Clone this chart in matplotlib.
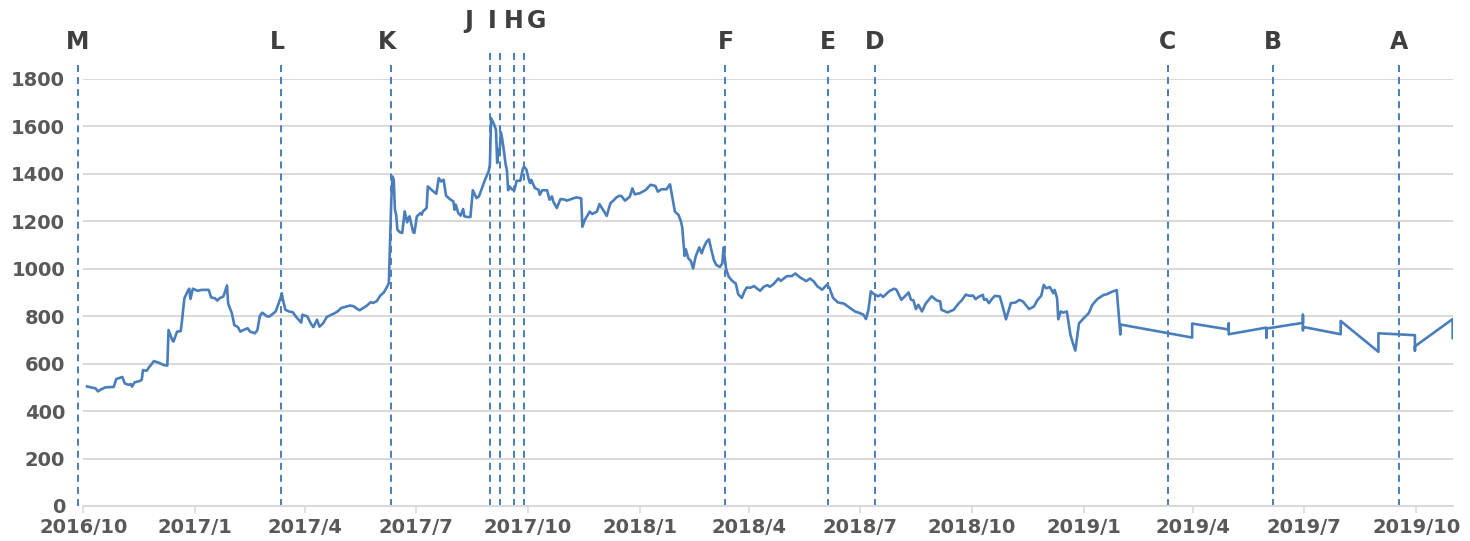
import pandas as pd
import matplotlib
matplotlib.use("Agg")
import matplotlib.pyplot as plt

# daily price (one row per month)
price_dates = [
    "2016-10-04", "2016-10-08", "2016-10-11", "2016-10-13", "2016-10-15", "2016-10-19", "2016-10-26", "2016-10-28",
    "2016-11-02", "2016-11-04", "2016-11-07", "2016-11-09", "2016-11-10", "2016-11-12", "2016-11-17", "2016-11-18", "2016-11-19", "2016-11-22", "2016-11-24", "2016-11-28",
    "2016-12-02", "2016-12-06", "2016-12-09", "2016-12-10", "2016-12-13", "2016-12-14", "2016-12-15", "2016-12-17", "2016-12-20", "2016-12-21", "2016-12-23", "2016-12-26", "2016-12-27", "2016-12-28", "2016-12-30",
    "2017-01-03", "2017-01-06", "2017-01-12", "2017-01-14", "2017-01-17", "2017-01-19", "2017-01-21", "2017-01-24", "2017-01-25", "2017-01-27", "2017-01-28", "2017-01-31",
    "2017-02-02", "2017-02-05", "2017-02-07", "2017-02-10", "2017-02-13", "2017-02-15", "2017-02-19", "2017-02-21", "2017-02-23", "2017-02-25",
    "2017-03-01", "2017-03-03", "2017-03-08", "2017-03-10", "2017-03-12", "2017-03-13", "2017-03-14", "2017-03-16", "2017-03-19", "2017-03-22", "2017-03-25", "2017-03-29", "2017-03-30",
    "2017-04-03", "2017-04-06", "2017-04-08", "2017-04-11", "2017-04-13", "2017-04-16", "2017-04-19", "2017-04-23", "2017-04-26", "2017-04-28",
    "2017-05-01", "2017-05-04", "2017-05-08", "2017-05-11", "2017-05-14", "2017-05-16", "2017-05-19", "2017-05-22", "2017-05-25", "2017-05-27", "2017-05-30",
    "2017-06-02", "2017-06-05", "2017-06-07", "2017-06-09", "2017-06-10", "2017-06-11", "2017-06-12", "2017-06-13", "2017-06-14", "2017-06-15", "2017-06-16", "2017-06-18", "2017-06-20", "2017-06-22", "2017-06-24", "2017-06-25", "2017-06-26", "2017-06-29", "2017-06-30",
    "2017-07-02", "2017-07-05", "2017-07-06", "2017-07-07", "2017-07-10", "2017-07-11", "2017-07-14", "2017-07-18", "2017-07-20", "2017-07-22", "2017-07-24", "2017-07-26", "2017-07-29",
    "2017-08-01", "2017-08-02", "2017-08-03", "2017-08-05", "2017-08-07", "2017-08-09", "2017-08-10", "2017-08-13", "2017-08-15", "2017-08-17", "2017-08-20", "2017-08-22", "2017-08-24", "2017-08-27", "2017-08-30", "2017-08-31",
    "2017-09-01", "2017-09-03", "2017-09-05", "2017-09-06", "2017-09-07", "2017-09-08", "2017-09-09", "2017-09-10", "2017-09-11", "2017-09-13", "2017-09-14", "2017-09-15", "2017-09-16", "2017-09-18", "2017-09-20", "2017-09-22", "2017-09-25", "2017-09-27", "2017-09-28", "2017-09-30",
    "2017-10-02", "2017-10-03", "2017-10-04", "2017-10-07", "2017-10-10", "2017-10-11", "2017-10-13", "2017-10-17", "2017-10-19", "2017-10-21", "2017-10-22", "2017-10-25", "2017-10-28",
    "2017-11-01", "2017-11-02", "2017-11-06", "2017-11-10", "2017-11-14", "2017-11-15", "2017-11-17", "2017-11-21", "2017-11-23", "2017-11-27", "2017-11-29",
    "2017-12-02", "2017-12-05", "2017-12-08", "2017-12-11", "2017-12-13", "2017-12-15", "2017-12-17", "2017-12-20", "2017-12-24", "2017-12-26", "2017-12-28",
    "2018-01-01", "2018-01-06", "2018-01-10", "2018-01-14", "2018-01-16", "2018-01-19", "2018-01-23", "2018-01-26", "2018-01-30",
    "2018-02-02", "2018-02-04", "2018-02-05", "2018-02-07", "2018-02-08", "2018-02-10", "2018-02-12", "2018-02-14", "2018-02-16", "2018-02-19", "2018-02-21", "2018-02-23", "2018-02-25", "2018-02-27",
    "2018-03-01", "2018-03-03", "2018-03-05", "2018-03-08", "2018-03-10", "2018-03-11", "2018-03-13", "2018-03-15", "2018-03-17", "2018-03-19", "2018-03-21", "2018-03-23", "2018-03-26", "2018-03-28", "2018-03-30",
    "2018-04-02", "2018-04-05", "2018-04-10", "2018-04-13", "2018-04-16", "2018-04-18", "2018-04-21", "2018-04-25", "2018-04-27",
    "2018-05-02", "2018-05-06", "2018-05-09", "2018-05-13", "2018-05-18", "2018-05-21", "2018-05-24", "2018-05-27", "2018-05-31",
    "2018-06-04", "2018-06-06", "2018-06-09", "2018-06-13", "2018-06-18", "2018-06-23", "2018-06-27",
    "2018-07-01", "2018-07-04", "2018-07-06", "2018-07-08", "2018-07-10", "2018-07-12", "2018-07-16", "2018-07-18", "2018-07-20", "2018-07-25", "2018-07-29", "2018-07-31",
    "2018-08-04", "2018-08-07", "2018-08-10", "2018-08-12", "2018-08-14", "2018-08-16", "2018-08-18", "2018-08-21", "2018-08-24", "2018-08-29",
    "2018-09-02", "2018-09-05", "2018-09-06", "2018-09-11", "2018-09-16", "2018-09-20", "2018-09-23", "2018-09-26", "2018-09-29",
    "2018-10-02", "2018-10-04", "2018-10-07", "2018-10-10", "2018-10-11", "2018-10-13", "2018-10-15", "2018-10-18", "2018-10-20", "2018-10-24", "2018-10-27", "2018-10-29", "2018-10-31",
    "2018-11-02", "2018-11-06", "2018-11-09", "2018-11-12", "2018-11-17", "2018-11-21", "2018-11-24", "2018-11-27", "2018-11-29",
    "2018-12-01", "2018-12-04", "2018-12-07", "2018-12-08", "2018-12-10", "2018-12-11", "2018-12-13", "2018-12-15", "2018-12-18", "2018-12-21", "2018-12-23", "2018-12-25", "2018-12-28",
    "2019-01-01", "2019-01-05", "2019-01-08", "2019-01-12", "2019-01-15", "2019-01-17", "2019-01-20", "2019-01-24", "2019-01-28", "2019-01-30", "2019-01-31", "2019-01-31",
    "2019-03-31", "2019-03-31",
    "2019-04-30", "2019-04-30", "2019-04-30",
    "2019-05-31", "2019-05-31", "2019-05-31",
    "2019-06-30", "2019-06-30", "2019-06-30", "2019-06-30",
    "2019-07-31", "2019-07-31",
    "2019-08-31", "2019-08-31",
    "2019-09-30", "2019-09-30", "2019-09-30",
    "2019-10-31", "2019-10-31",
]
price_values = [
    504, 499, 496, 483, 490, 500, 502, 535,
    544, 517, 511, 514, 503, 521, 528, 534, 573, 570, 585, 611,
    604, 594, 592, 742, 700, 693, 707, 735, 737, 778, 876, 908, 916, 873, 916,
    907, 911, 911, 879, 876, 866, 876, 883, 897, 930, 852, 813,
    763, 754, 735, 743, 749, 735, 728, 742, 801, 815,
    799, 799, 820, 848, 876, 897, 869, 827, 820, 817, 796, 773, 806,
    799, 768, 754, 785, 756, 770, 797, 807, 814, 821,
    835, 839, 845, 842, 831, 825, 835, 845, 859, 856, 863,
    887, 901, 919, 940, 1123, 1291, 1389, 1375, 1249, 1228, 1165, 1154, 1151, 1242, 1196, 1214, 1221, 1154, 1151,
    1221, 1235, 1228, 1242, 1256, 1347, 1333, 1316, 1382, 1368, 1375, 1308, 1294,
    1284, 1249, 1270, 1235, 1224, 1252, 1221, 1218, 1218, 1331, 1298, 1305, 1333, 1375, 1411, 1439,
    1635, 1614, 1586, 1446, 1502, 1495, 1576, 1551, 1516, 1439, 1415, 1331, 1347, 1336, 1329, 1371, 1371, 1418, 1432, 1418,
    1375, 1361, 1375, 1340, 1333, 1312, 1331, 1331, 1291, 1305, 1284, 1256, 1294,
    1291, 1287, 1294, 1301, 1297, 1177, 1206, 1241, 1231, 1241, 1273,
    1248, 1223, 1276, 1290, 1301, 1307, 1307, 1287, 1304, 1339, 1314,
    1318, 1332, 1354, 1349, 1325, 1335, 1335, 1356, 1241,
    1227, 1199, 1175, 1054, 1082, 1044, 1034, 1001, 1051, 1090, 1065, 1093, 1114, 1124,
    1079, 1037, 1016, 1008, 1023, 1090, 1001, 969, 955, 945, 938, 893, 877, 903, 921,
    920, 927, 907, 924, 931, 924, 935, 959, 949,
    969, 969, 980, 963, 948, 959, 947, 926, 912,
    933, 919, 877, 858, 853, 834, 820,
    813, 806, 788, 827, 905, 895, 884, 891, 881, 905, 916, 912,
    869, 884, 900, 869, 867, 830, 848, 820, 853, 884,
    867, 862, 827, 816, 827, 853, 869, 891, 886,
    887, 872, 883, 890, 869, 872, 855, 876, 886, 883, 827, 787, 820,
    855, 858, 869, 862, 830, 841, 869, 886, 932,
    918, 923, 897, 911, 876, 787, 820, 815, 820, 721, 686, 655, 770,
    792, 813, 848, 872, 882, 889, 893, 903, 910, 783, 723, 765,
    710, 769,
    744, 769, 724,
    752, 710, 748,
    772, 806, 741, 755,
    724, 780,
    650, 728,
    720, 655, 673,
    788, 708,
]

# event markers
event_labels = ["M", "L", "K", "J", "I", "H", "G", "F", "E", "D", "C", "B", "A"]
event_dates = ["2016-09-27", "2017-03-12", "2017-06-11", "2017-08-31", "2017-09-08",
               "2017-09-20", "2017-09-28", "2018-03-12", "2018-06-05", "2018-07-13",
               "2019-03-11", "2019-06-05", "2019-09-17"]

tick_dates = ["2016-10-01", "2017-01-01", "2017-04-01", "2017-07-01", "2017-10-01",
              "2018-01-01", "2018-04-01", "2018-07-01", "2018-10-01", "2019-01-01",
              "2019-04-01", "2019-07-01", "2019-10-01"]
tick_labels = ["2016/10", "2017/1", "2017/4", "2017/7", "2017/10", "2018/1", "2018/4",
               "2018/7", "2018/10", "2019/1", "2019/4", "2019/7", "2019/10"]

blue = "#4a7ebb"
grid_c = "#d9d9d9"

fig = plt.figure(figsize=(14.7, 5.41), dpi=100)
ax = fig.add_axes([0.0567, 0.0647, 0.9315, 0.7893])

ax.plot(pd.to_datetime(price_dates), price_values, color=blue, lw=1.9, zorder=3)

ax.set_xlim(pd.Timestamp("2016-10-01"), pd.Timestamp("2019-10-31"))
ax.set_ylim(0, 1800)
ax.set_yticks(range(0, 1801, 200))
ax.set_xticks(pd.to_datetime(tick_dates))
ax.set_xticklabels(tick_labels)

for s in ["top", "right", "left"]:
    ax.spines[s].set_visible(False)
ax.spines["bottom"].set_color(grid_c)
ax.spines["bottom"].set_linewidth(1.5)
ax.yaxis.grid(True, color=grid_c, lw=1.4)
ax.set_axisbelow(True)

ax.tick_params(axis="y", length=0, pad=13, labelsize=14, labelcolor="#595959")
ax.tick_params(axis="x", length=5, width=1.2, color=grid_c, pad=4,
               labelsize=14, labelcolor="#595959")
for t in ax.get_xticklabels() + ax.get_yticklabels():
    t.set_fontweight("bold")

# labels J I H G sit higher and are spread out so they don't collide
high = {"J", "I", "H", "G"}
label_shift = {"M": -1, "L": -2, "K": -3, "J": -15, "I": -5, "G": 9, "F": 1}
for lab, d in zip(event_labels, event_dates):
    x = pd.Timestamp(d)
    top = 1925 if lab in high else 1880
    ax.plot([x, x], [0, top], color=blue, lw=1.4, dashes=(3.6, 2.6),
            clip_on=False, zorder=2)
    ax.annotate(lab, xy=(x, 2045 if lab in high else 1955),
                xytext=(label_shift.get(lab, 0), 0), textcoords="offset points",
                ha="center", va="center", fontsize=17, fontweight="bold",
                color="#3f3f3f", annotation_clip=False)

fig.savefig("out.png", dpi=100)
